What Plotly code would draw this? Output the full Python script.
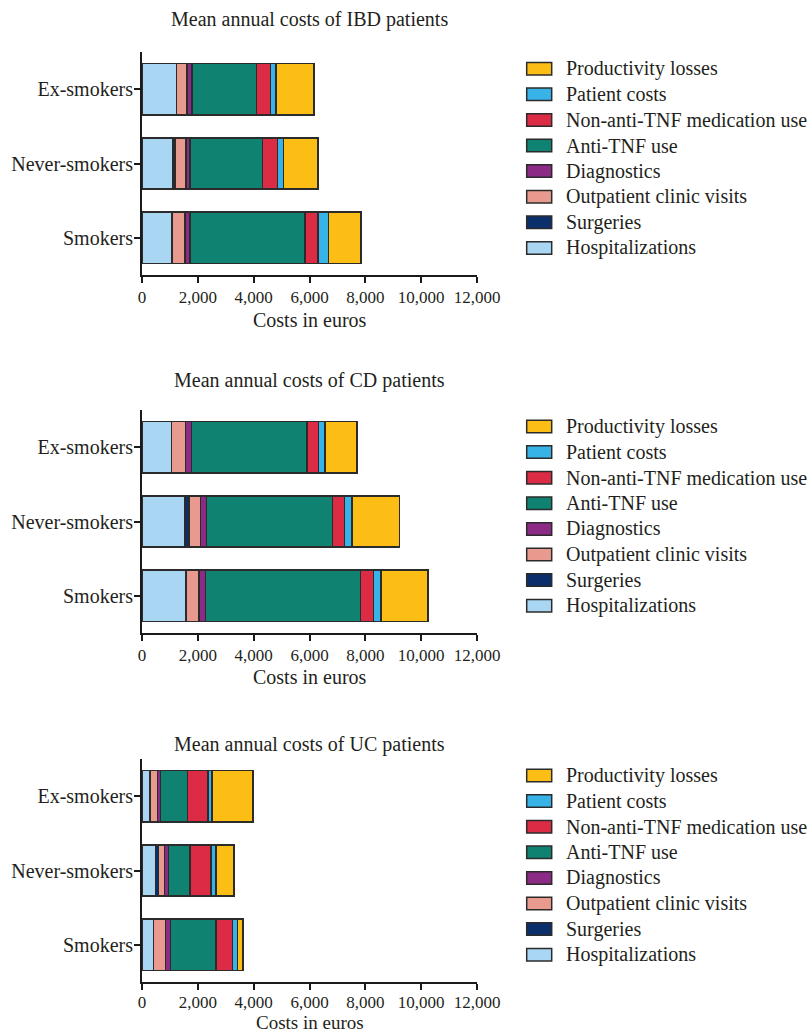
import plotly.graph_objects as go

# Smoking status categories (bottom to top)
categories = ["Smokers", "Never-smokers", "Ex-smokers"]

cost_items = [
    "Hospitalizations",
    "Surgeries",
    "Outpatient clinic visits",
    "Diagnostics",
    "Anti-TNF use",
    "Non-anti-TNF medication use",
    "Patient costs",
    "Productivity losses",
]

colors = [
    "#A9D6F3",  # Hospitalizations
    "#0B2F6B",  # Surgeries
    "#E99A8E",  # Outpatient clinic visits
    "#8C2B86",  # Diagnostics
    "#0F8271",  # Anti-TNF use
    "#DC2B44",  # Non-anti-TNF medication use
    "#38B3E8",  # Patient costs
    "#FCBE15",  # Productivity losses
]

# Mean annual costs (euros), per item: [Smokers, Never-smokers, Ex-smokers]
ibd_hospitalizations = [1077, 1113, 1235]
ibd_surgeries = [0, 71, 0]
ibd_outpatient = [455, 384, 380]
ibd_diagnostics = [191, 155, 169]
ibd_anti_tnf = [4117, 2598, 2322]
ibd_non_anti_tnf = [456, 525, 488]
ibd_patient_costs = [380, 215, 205]
ibd_productivity = [1163, 1235, 1364]

cd_hospitalizations = [1567, 1543, 1053]
cd_surgeries = [0, 132, 0]
cd_outpatient = [478, 418, 502]
cd_diagnostics = [228, 216, 215]
cd_anti_tnf = [5550, 4521, 4139]
cd_non_anti_tnf = [478, 431, 419]
cd_patient_costs = [264, 263, 227]
cd_productivity = [1674, 1698, 1148]

uc_hospitalizations = [407, 478, 287]
uc_surgeries = [0, 120, 0]
uc_outpatient = [430, 203, 263]
uc_diagnostics = [180, 156, 120]
uc_anti_tnf = [1627, 765, 957]
uc_non_anti_tnf = [598, 742, 729]
uc_patient_costs = [179, 192, 144]
uc_productivity = [191, 633, 1483]

x_ticks = [0, 2000, 4000, 6000, 8000, 10000, 12000]

panels = [
    ("Mean annual costs of IBD patients",
     [ibd_hospitalizations, ibd_surgeries, ibd_outpatient, ibd_diagnostics,
      ibd_anti_tnf, ibd_non_anti_tnf, ibd_patient_costs, ibd_productivity]),
    ("Mean annual costs of CD patients",
     [cd_hospitalizations, cd_surgeries, cd_outpatient, cd_diagnostics,
      cd_anti_tnf, cd_non_anti_tnf, cd_patient_costs, cd_productivity]),
    ("Mean annual costs of UC patients",
     [uc_hospitalizations, uc_surgeries, uc_outpatient, uc_diagnostics,
      uc_anti_tnf, uc_non_anti_tnf, uc_patient_costs, uc_productivity]),
]

W, H = 809, 1034
FONT = "Liberation Serif"
TXT = "#231F20"
EDGE = "#2B2B2B"

# pixel geometry of each panel:
# (plot top, plot bottom, title y, x-title y, x-title size, first key row y,
#  tick label shift)
geom = [
    (52, 275, 20, 320, 20, 68.7, 0),
    (410, 633, 381, 677, 20, 426.5, 0),
    (759, 982, 744, 1022, 19, 775.5, -2),
]
x_left, x_right = 142, 477
key_x0, key_x1, key_text_x, key_step, key_h = 526.7, 551.7, 564, 25.6, 12.5

fig = go.Figure()
layout = dict(
    width=W, height=H, autosize=False,
    margin=dict(l=0, r=0, t=0, b=0, pad=0, autoexpand=False),
    paper_bgcolor="white", plot_bgcolor="white",
    barmode="stack", bargap=0.31, showlegend=False,
    font=dict(family=FONT, size=20, color=TXT),
    annotations=[], shapes=[],
)


def text(label, x, y, anchor="center", size=20):
    return dict(
        text=label, x=x / W, y=1 - y / H, xref="paper", yref="paper",
        showarrow=False, xanchor=anchor, yanchor="middle",
        font=dict(size=size, color=TXT),
    )


for i, (title, series) in enumerate(panels):
    n = "" if i == 0 else str(i + 1)
    xa, ya = "x" + n, "y" + n
    top, bottom, ty, xty, xts, key_top, tick_shift = geom[i]
    for name, vals, col in zip(cost_items, series, colors):
        fig.add_trace(go.Bar(
            y=categories, x=vals, name=name, orientation="h",
            marker=dict(color=col, line=dict(color=EDGE, width=1.5)),
            xaxis=xa, yaxis=ya, hoverinfo="x+name",
        ))
    layout["xaxis" + n] = dict(
        domain=[x_left / W, x_right / W], anchor=ya, range=[0, 12000],
        tickvals=x_ticks, tickformat=",d", ticks="outside", ticklen=6,
        tickwidth=2, tickcolor="#1A1A1A", showline=True, linewidth=2,
        linecolor="#1A1A1A", showgrid=False, zeroline=False,
        automargin=False, ticklabelstandoff=tick_shift,
        tickfont=dict(size=17),
    )
    layout["yaxis" + n] = dict(
        domain=[1 - bottom / H, 1 - top / H], anchor=xa,
        type="category", categoryorder="array", categoryarray=categories,
        range=[-0.5, 2.5], ticks="outside", ticklen=6, tickwidth=2,
        tickcolor="#1A1A1A", showline=True, linewidth=2, linecolor="#1A1A1A",
        showgrid=False, zeroline=False, automargin=False,
        ticklabelstandoff=-3, tickfont=dict(size=20),
    )
    layout["annotations"].append(text(title, (x_left + x_right) / 2, ty))
    layout["annotations"].append(
        text("Costs in euros", (x_left + x_right) / 2, xty, size=xts))
    # key: swatch plus label for each cost item, top row is the last item
    for j, (name, col) in enumerate(zip(cost_items[::-1], colors[::-1])):
        cy = key_top + j * key_step
        layout["shapes"].append(dict(
            type="rect", xref="paper", yref="paper",
            x0=key_x0 / W, x1=key_x1 / W,
            y0=1 - (cy + key_h / 2) / H, y1=1 - (cy - key_h / 2) / H,
            fillcolor=col, line=dict(color=EDGE, width=1.5),
        ))
        layout["annotations"].append(text(name, key_text_x, cy, "left"))

fig.update_layout(**layout)
fig.write_html("out.html", config={"responsive": False})
